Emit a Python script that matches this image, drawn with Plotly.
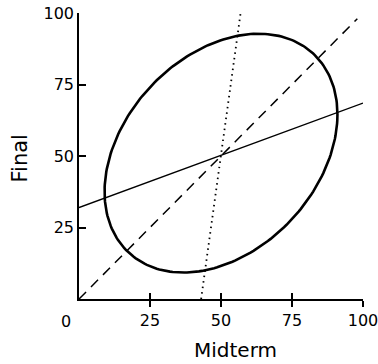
import numpy as np
import plotly.graph_objects as go

# Axis ticks
midterm_ticks = [25, 50, 75, 100]
final_ticks = [25, 50, 75, 100]

# Lines (endpoints)
identity_x = [0, 98]
identity_y = [0, 98]
reg_final_x = [0, 100]
reg_final_y = [32, 68.5]
reg_mid_x = [43, 56.9]
reg_mid_y = [0, 100]

# Ellipse parameters (center, x half-width, y cos/sin components)
ell_cx, ell_cy = 50, 51
ell_a = 41
ell_b = 13.5
ell_c = 39.5

t = np.linspace(0, 2 * np.pi, 240)
ell_x = ell_cx + ell_a * np.cos(t)
ell_y = ell_cy + ell_b * np.cos(t) + ell_c * np.sin(t)

fig = go.Figure()
fig.add_trace(go.Scatter(x=ell_x, y=ell_y, mode="lines",
                         line=dict(color="black", width=2.6), hoverinfo="skip"))
fig.add_trace(go.Scatter(x=identity_x, y=identity_y, mode="lines",
                         line=dict(color="black", width=1.5, dash="10px,7px")))
fig.add_trace(go.Scatter(x=reg_final_x, y=reg_final_y, mode="lines",
                         line=dict(color="black", width=1.4)))
fig.add_trace(go.Scatter(x=reg_mid_x, y=reg_mid_y, mode="lines",
                         line=dict(color="black", width=1.8, dash="1.5px,4px")))

font_family = "DejaVu Sans"
fig.update_layout(
    width=378, height=364,
    margin=dict(l=79, r=15, t=13, b=65, pad=0, autoexpand=False),
    paper_bgcolor="white", plot_bgcolor="white",
    showlegend=False,
    font=dict(family=font_family, color="black", size=16),
    xaxis=dict(range=[0, 100], tickvals=midterm_ticks, ticktext=[str(v) for v in midterm_ticks],
               showgrid=False, zeroline=False, showline=True, linecolor="black", linewidth=1.5,
               ticks="outside", ticklen=6, tickwidth=1.5, tickcolor="black", automargin=False,
               ticklabeloverflow="allow", tickfont=dict(size=16)),
    xaxis2=dict(range=[0, 100], overlaying="x", matches="x", tickvals=midterm_ticks,
                showticklabels=False, showgrid=False, zeroline=False, showline=False, automargin=False,
                ticks="inside", ticklen=6, tickwidth=1.5, tickcolor="black", anchor="y", side="bottom"),
    yaxis=dict(range=[0, 100], tickvals=final_ticks, ticktext=[str(v) for v in final_ticks],
               showgrid=False, zeroline=False, showline=True, linecolor="black", linewidth=1.5,
               ticks="inside", ticklen=7, tickwidth=1.5, tickcolor="black", automargin=False,
               ticklabeloverflow="allow", tickfont=dict(size=16)),
)
# dummy trace to activate xaxis2
fig.add_trace(go.Scatter(x=[None], y=[None], xaxis="x2", showlegend=False))

fig.add_annotation(x=0, y=0, xref="x", yref="y", text="0", showarrow=False,
                   xshift=-13, yshift=-22, font=dict(size=16))
fig.add_annotation(x=0.551, y=-0.178, xref="paper", yref="paper", text="Midterm",
                   showarrow=False, xanchor="center", yanchor="middle", font=dict(size=20))
fig.add_annotation(x=-0.209, y=0.49, xref="paper", yref="paper", text="Final",
                   showarrow=False, xanchor="center", yanchor="middle", textangle=-90,
                   font=dict(size=21))

fig.write_html("out.html", config={"displayModeBar": False},
               post_script="document.body.style.margin='0';document.body.style.overflow='hidden';")
